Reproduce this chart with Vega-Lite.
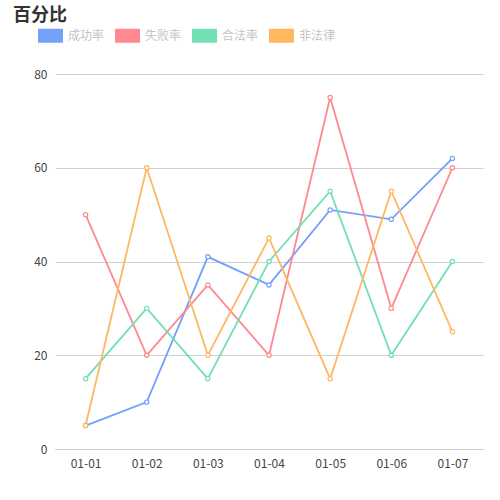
{
  "$schema": "https://vega.github.io/schema/vega-lite/v6.json",
  "autosize": {"type": "none"},
  "width": 428,
  "height": 375,
  "padding": {"left": 55, "top": 74, "right": 17, "bottom": 51},
  "background": "white",
  "title": {
    "text": "百分比",
    "anchor": "start",
    "frame": "group",
    "dx": -42,
    "dy": 5,
    "offset": 3,
    "fontSize": 18,
    "fontWeight": "bold",
    "color": "#333333"
  },
  "data": {
    "values": [
      {"date": "01-01", "series": "成功率", "value": 5},
      {"date": "01-02", "series": "成功率", "value": 10},
      {"date": "01-03", "series": "成功率", "value": 41},
      {"date": "01-04", "series": "成功率", "value": 35},
      {"date": "01-05", "series": "成功率", "value": 51},
      {"date": "01-06", "series": "成功率", "value": 49},
      {"date": "01-07", "series": "成功率", "value": 62},
      {"date": "01-01", "series": "失败率", "value": 50},
      {"date": "01-02", "series": "失败率", "value": 20},
      {"date": "01-03", "series": "失败率", "value": 35},
      {"date": "01-04", "series": "失败率", "value": 20},
      {"date": "01-05", "series": "失败率", "value": 75},
      {"date": "01-06", "series": "失败率", "value": 30},
      {"date": "01-07", "series": "失败率", "value": 60},
      {"date": "01-01", "series": "合法率", "value": 15},
      {"date": "01-02", "series": "合法率", "value": 30},
      {"date": "01-03", "series": "合法率", "value": 15},
      {"date": "01-04", "series": "合法率", "value": 40},
      {"date": "01-05", "series": "合法率", "value": 55},
      {"date": "01-06", "series": "合法率", "value": 20},
      {"date": "01-07", "series": "合法率", "value": 40},
      {"date": "01-01", "series": "非法律", "value": 5},
      {"date": "01-02", "series": "非法律", "value": 60},
      {"date": "01-03", "series": "非法律", "value": 20},
      {"date": "01-04", "series": "非法律", "value": 45},
      {"date": "01-05", "series": "非法律", "value": 15},
      {"date": "01-06", "series": "非法律", "value": 55},
      {"date": "01-07", "series": "非法律", "value": 25}
    ]
  },
  "encoding": {
    "x": {
      "field": "date",
      "type": "ordinal",
      "scale": {"type": "point", "padding": 0.5},
      "axis": {
        "title": null,
        "labelAngle": 0,
        "ticks": false,
        "labelPadding": 9,
        "domainColor": "#c8c8c8",
        "grid": false
      }
    },
    "y": {
      "field": "value",
      "type": "quantitative",
      "scale": {"domain": [0, 80]},
      "axis": {
        "title": null,
        "values": [0, 20, 40, 60, 80],
        "ticks": false,
        "domain": false,
        "labelPadding": 8,
        "gridColor": "#d0d0d0"
      }
    },
    "color": {
      "field": "series",
      "type": "nominal",
      "scale": {
        "domain": ["成功率", "失败率", "合法率", "非法律"],
        "range": ["#74a0fa", "#ff8891", "#72dfb5", "#ffb760"]
      },
      "legend": {
        "title": null,
        "orient": "none",
        "direction": "horizontal",
        "legendX": -17,
        "legendY": -51,
        "symbolType": "M-1,-0.56H1V0.56H-1Z",
        "symbolSize": 625,
        "symbolStrokeWidth": 0,
        "symbolOpacity": 1,
        "labelOffset": 5,
        "columnPadding": 10,
        "labelFontSize": 12,
        "labelColor": "#c4c4c4",
        "encode": {
          "symbols": {
            "update": {
              "fill": {"scale": "color", "field": "value"},
              "fillOpacity": {"value": 1}
            }
          }
        }
      }
    }
  },
  "layer": [
    {"mark": {"type": "line", "strokeWidth": 1.8}},
    {"mark": {"type": "point", "filled": false, "fill": "white", "size": 18, "strokeWidth": 1.2, "opacity": 1}}
  ],
  "config": {
    "font": "Noto Sans CJK SC",
    "view": {"stroke": null},
    "axis": {"labelFontSize": 12, "labelColor": "#444444"}
  }
}
